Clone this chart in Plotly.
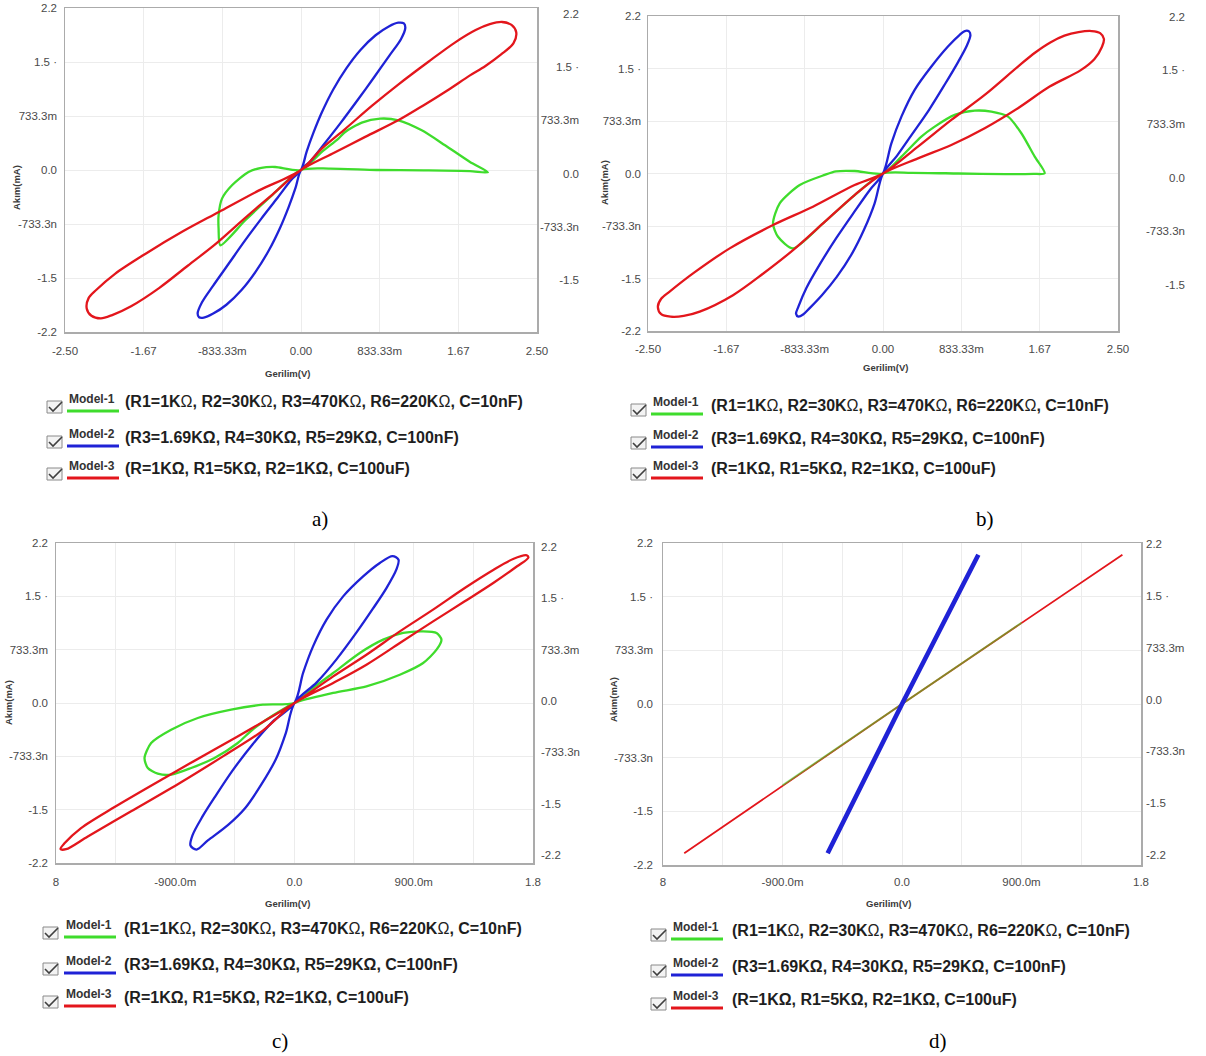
import plotly.graph_objects as go

W, H = 1206, 1056


def px(x):
    return x / W


def py(y):
    return 1 - y / H


# ---------------- tick values / labels ----------------
AB_X_TICKS = [-2.5, -1.6667, -0.8333, 0.0, 0.8333, 1.6667, 2.5]
AB_X_LABELS = ["-2.50", "-1.67", "-833.33m", "0.00", "833.33m", "1.67", "2.50"]
CD_X_TICKS = [-1.8, -1.35, -0.9, -0.45, 0.0, 0.45, 0.9, 1.35, 1.8]
CD_X_LABELS = ["8", "", "-900.0m", "", "0.0", "", "900.0m", "", "1.8"]
Y_TICKS = [-2.2, -1.4667, -0.7333, 0.0, 0.7333, 1.4667, 2.2]
Y_LABELS = ["-2.2", "-1.5", "-733.3n", "0.0", "733.3m", "1.5 \u00b7", "2.2"]

# ---------------- panel a ----------------
A_M1_X = [0, 0.3, 0.8, 1.3, 1.79, 1.98, 1.79, 1.526, 1.279, 1.032, 0.838, 0.644, 0.468, 0.397, 0.221, 0,
          -0.273, -0.42, -0.556, -0.731, -0.837, -0.873, -0.873, -0.855, -0.59, -0.326, 0]
A_M1_Y = [0, 0.02, 0.0, -0.005, -0.015, -0.03, 0.109, 0.336, 0.539, 0.675, 0.698, 0.644, 0.516, 0.427, 0.245, 0,
          0.041, 0.03, -0.027, -0.208, -0.389, -0.616, -0.797, -1.023, -0.683, -0.367, 0]
A_M2_X = [0, 0.06, 0.13, 0.22, 0.34, 0.48, 0.63, 0.79, 0.93, 1.03, 1.09, 1.105, 1.06, 0.94, 0.78, 0.6, 0.42, 0.25, 0.1, 0,
          -0.06, -0.13, -0.22, -0.34, -0.48, -0.63, -0.79, -0.93, -1.03, -1.08, -1.095, -1.05, -0.93, -0.77, -0.6, -0.42, -0.25, -0.1, 0]
A_M2_Y = [0, 0.25, 0.5, 0.78, 1.09, 1.38, 1.63, 1.83, 1.95, 2.0, 1.99, 1.93, 1.78, 1.56, 1.27, 0.95, 0.64, 0.36, 0.12, 0,
          -0.25, -0.5, -0.78, -1.09, -1.38, -1.63, -1.83, -1.95, -2.005, -2.0, -1.95, -1.8, -1.57, -1.28, -0.97, -0.66, -0.38, -0.13, 0]
A_M3_X = [0, 0.22, 0.47, 0.75, 1.03, 1.35, 1.63, 1.85, 2.0, 2.13, 2.23, 2.28, 2.25, 2.12, 1.95, 1.79, 1.55, 1.3, 1.03, 0.68, 0.33, 0,
          -0.3, -0.6, -0.9, -1.2, -1.5, -1.8, -2.0, -2.12, -2.22, -2.27, -2.25, -2.17, -1.97, -1.65, -1.26, -0.87, -0.45, 0]
A_M3_Y = [0, 0.29, 0.56, 0.87, 1.16, 1.47, 1.73, 1.9, 1.98, 2.01, 1.97, 1.87, 1.72, 1.57, 1.41, 1.285, 1.08, 0.88, 0.675, 0.45, 0.22, 0,
          -0.33, -0.66, -1.0, -1.3, -1.6, -1.85, -1.97, -2.015, -1.98, -1.88, -1.74, -1.63, -1.41, -1.14, -0.84, -0.57, -0.28, 0]

# ---------------- panel b ----------------
B_M1_X = [0, 0.3, 0.8, 1.3, 1.6, 1.72, 1.614, 1.472, 1.330, 1.153, 0.976, 0.763, 0.550, 0.408, 0.196, 0,
          -0.3, -0.5, -0.62, -0.886, -1.099, -1.170, -1.117, -0.957, -0.638, -0.302, 0]
B_M1_Y = [0, 0.01, 0.0, -0.01, -0.005, 0.003, 0.235, 0.562, 0.794, 0.864, 0.878, 0.818, 0.655, 0.515, 0.235, 0,
          0.035, 0.03, -0.02, -0.161, -0.417, -0.697, -0.884, -1.046, -0.697, -0.301, 0]
B_M2_X = [0, 0.089, 0.196, 0.337, 0.515, 0.691, 0.816, 0.87, 0.915, 0.93, 0.89, 0.8, 0.66, 0.49, 0.31, 0.15, 0,
          -0.09, -0.2, -0.33, -0.49, -0.65, -0.78, -0.85, -0.9, -0.925, -0.9, -0.815, -0.673, -0.496, -0.302, -0.14, 0]
B_M2_Y = [0, 0.422, 0.794, 1.168, 1.494, 1.773, 1.937, 1.99, 1.985, 1.93, 1.78, 1.56, 1.25, 0.89, 0.55, 0.25, 0,
          -0.42, -0.78, -1.12, -1.44, -1.7, -1.88, -1.97, -2.0, -1.96, -1.86, -1.6, -1.27, -0.9, -0.53, -0.23, 0]
B_M3_X = [0, 0.372, 0.727, 1.082, 1.436, 1.62, 1.78, 1.93, 2.08, 2.22, 2.31, 2.35, 2.33, 2.25, 2.1, 1.773, 1.436, 1.082, 0.727, 0.372, 0,
          -0.302, -0.638, -0.957, -1.277, -1.596, -1.95, -2.12, -2.26, -2.36, -2.395, -2.36, -2.27, -2.021, -1.631, -1.170, -0.745, -0.302, 0]
B_M3_Y = [0, 0.375, 0.748, 1.098, 1.494, 1.69, 1.83, 1.925, 1.975, 1.99, 1.96, 1.88, 1.77, 1.6, 1.44, 1.214, 0.912, 0.632, 0.399, 0.212, 0,
          -0.301, -0.697, -1.070, -1.40, -1.70, -1.93, -1.99, -2.0, -1.965, -1.865, -1.75, -1.65, -1.396, -1.046, -0.720, -0.464, -0.161, 0]

# ---------------- panel c ----------------
C_M1_X = [0, 0.140, 0.292, 0.493, 0.669, 0.820, 0.971, 1.072, 1.109, 1.072, 0.971, 0.795, 0.543, 0.292, 0,
          -0.302, -0.428, -0.604, -0.780, -0.931, -1.032, -1.107, -1.132, -1.082, -0.931, -0.730, -0.478, -0.239, 0]
C_M1_Y = [0, 0.206, 0.413, 0.688, 0.871, 0.963, 0.985, 0.963, 0.871, 0.733, 0.550, 0.389, 0.228, 0.138, 0,
          -0.344, -0.550, -0.757, -0.894, -0.986, -0.972, -0.894, -0.757, -0.550, -0.367, -0.206, -0.092, -0.023, 0]
C_M2_X = [0, 0.065, 0.140, 0.242, 0.367, 0.518, 0.644, 0.74, 0.785, 0.770, 0.694, 0.593, 0.468, 0.317, 0.166, 0,
          -0.065, -0.14, -0.25, -0.37, -0.503, -0.654, -0.74, -0.785, -0.77, -0.694, -0.593, -0.468, -0.317, -0.166, 0]
C_M2_Y = [0, 0.413, 0.779, 1.146, 1.466, 1.741, 1.926, 2.02, 1.97, 1.84, 1.58, 1.3, 0.97, 0.6, 0.28, 0,
          -0.41, -0.77, -1.12, -1.44, -1.68, -1.89, -2.015, -1.96, -1.82, -1.56, -1.27, -0.93, -0.57, -0.26, 0]
C_M3_X = [0, 0.292, 0.543, 0.795, 1.046, 1.285, 1.5, 1.65, 1.753, 1.765, 1.68, 1.5, 1.285, 1.046, 0.795, 0.543, 0.292, 0,
          -0.239, -0.528, -0.856, -1.233, -1.560, -1.724, -1.766, -1.736, -1.611, -1.358, -0.981, -0.604, -0.239, 0]
C_M3_Y = [0, 0.366, 0.664, 0.985, 1.284, 1.582, 1.83, 1.98, 2.03, 2.0, 1.88, 1.65, 1.398, 1.122, 0.825, 0.527, 0.275, 0,
          -0.38, -0.72, -1.09, -1.49, -1.835, -2.01, -2.008, -1.93, -1.72, -1.43, -1.03, -0.64, -0.26, 0]

# ---------------- panel d ----------------
D_M1_X = [-0.9, 0, 0.9]
D_M1_Y = [-1.11, 0, 1.11]
D_M2_X = [-0.56, 0, 0.575]
D_M2_Y = [-2.04, 0, 2.04]
D_M3_X = [-1.64, 0, 1.66]
D_M3_Y = [-2.04, 0, 2.04]

# ---------------- legend text ----------------
MODEL_NAMES = ["Model-1", "Model-2", "Model-3"]
MODEL_DESCS = ["(R1=1K\u03a9, R2=30K\u03a9, R3=470K\u03a9, R6=220K\u03a9, C=10nF)",
               "(R3=1.69K\u03a9, R4=30K\u03a9, R5=29K\u03a9, C=100nF)",
               "(R=1K\u03a9, R1=5K\u03a9, R2=1K\u03a9, C=100uF)"]
COLORS = ["#3fdc2c", "#1f22d6", "#e3161c"]
CAPTIONS = ["a)", "b)", "c)", "d)"]
X_TITLE = "Gerilim(V)"
Y_TITLE = "Ak\u0131m(mA)"

# ---------------- layout geometry (pixels) ----------------
PANELS = [
    dict(curves=[(A_M1_X, A_M1_Y), (A_M2_X, A_M2_Y), (A_M3_X, A_M3_Y)],
         box=(65, 537, 8, 332), xr=[-2.5, 2.5], xt=AB_X_TICKS, xl=AB_X_LABELS, xtl=8,
         lpos=57, rpos=579, rside="left", rr=[-2.180, 2.282],
         xtitle=(287, 373), ytitle=(17, 188), cap=(320, 519),
         leg=dict(box_x=47, model_x=67, desc_x=123, rows=[402, 437, 469])),
    dict(curves=[(B_M1_X, B_M1_Y), (B_M2_X, B_M2_Y), (B_M3_X, B_M3_Y)],
         box=(648, 1118, 16, 331), xr=[-2.5, 2.5], xt=AB_X_TICKS, xl=AB_X_LABELS, xtl=7,
         lpos=641, rpos=1185, rside="left", rr=[-2.100, 2.209],
         xtitle=(885, 367), ytitle=(604, 183), cap=(985, 519),
         leg=dict(box_x=631, model_x=651, desc_x=709, rows=[405, 438, 469])),
    dict(curves=[(C_M1_X, C_M1_Y), (C_M2_X, C_M2_Y), (C_M3_X, C_M3_Y)],
         box=(56, 533, 543, 863), xr=[-1.8, 1.8], xt=CD_X_TICKS, xl=CD_X_LABELS, xtl=8,
         lpos=48, rpos=540, rside="right", rr=[-2.312, 2.253],
         xtitle=(287, 903), ytitle=(8, 703), cap=(280, 1041),
         leg=dict(box_x=43, model_x=64, desc_x=122, rows=[928, 964, 997])),
    dict(curves=[(D_M1_X, D_M1_Y), (D_M2_X, D_M2_Y), (D_M3_X, D_M3_Y)],
         box=(663, 1141, 543, 865), xr=[-1.8, 1.8], xt=CD_X_TICKS, xl=CD_X_LABELS, xtl=6,
         lpos=653, rpos=1145, rside="right", rr=[-2.343, 2.215],
         xtitle=(888, 903), ytitle=(613, 700), cap=(938, 1041),
         leg=dict(box_x=651, model_x=671, desc_x=730, rows=[930, 966, 999])),
]

TICK_FONT = dict(family="Liberation Sans", size=11.5, color="#4a4a4a")
GRID = "#ececec"
FRAME = "#ababab"

fig = go.Figure()
layout = dict(width=W, height=H, margin=dict(l=0, r=0, t=0, b=0, pad=0), autosize=False,
              paper_bgcolor="white", plot_bgcolor="white", showlegend=False)
annotations = []
shapes = []


def axname(prefix, n):
    return prefix if n == 1 else f"{prefix}{n}"


for i, p in enumerate(PANELS):
    xn = i + 1
    ym, yl, yr = 3 * i + 1, 3 * i + 2, 3 * i + 3
    xref = axname("x", xn)
    ymref, ylref, yrref = axname("y", ym), axname("y", yl), axname("y", yr)
    x0, x1, y0, y1 = p["box"]

    layout[axname("xaxis", xn)] = dict(
        domain=[px(x0), px(x1)], anchor=ymref, range=p["xr"], automargin=False,
        tickmode="array", tickvals=p["xt"], ticktext=p["xl"], tickfont=TICK_FONT,
        ticks="outside", ticklen=p["xtl"], tickcolor="rgba(0,0,0,0)",
        showgrid=True, gridcolor=GRID, gridwidth=1, zeroline=False,
        showline=True, mirror=True, linecolor=FRAME, linewidth=1.5, fixedrange=True)
    layout[axname("yaxis", ym)] = dict(
        domain=[py(y1), py(y0)], anchor=xref, range=[-2.2, 2.2], automargin=False,
        tickmode="array", tickvals=Y_TICKS, showticklabels=False, ticks="",
        showgrid=True, gridcolor=GRID, gridwidth=1, zeroline=False,
        showline=True, mirror=True, linecolor=FRAME, linewidth=1.5, fixedrange=True)
    layout[axname("yaxis", yl)] = dict(
        overlaying=ymref, anchor="free", position=px(p["lpos"]), side="left",
        range=[-2.2, 2.2], tickmode="array", tickvals=Y_TICKS, ticktext=Y_LABELS,
        tickfont=TICK_FONT, ticks="", showgrid=False, zeroline=False, showline=False,
        automargin=False, fixedrange=True)
    layout[axname("yaxis", yr)] = dict(
        overlaying=ymref, anchor="free", position=px(p["rpos"]), side=p["rside"],
        range=p["rr"], tickmode="array", tickvals=Y_TICKS, ticktext=Y_LABELS,
        tickfont=TICK_FONT, ticks="", showgrid=False, zeroline=False, showline=False,
        automargin=False, fixedrange=True)

    # dummy traces so that the label axes are drawn
    for yy in (ylref, yrref):
        fig.add_trace(go.Scatter(x=[0], y=[0], xaxis=xref, yaxis=yy, mode="markers",
                                 marker=dict(opacity=0), hoverinfo="skip", showlegend=False))

    # curves
    order = [0, 1, 2] if i < 3 else [2, 0, 1]
    for m in order:
        cx, cy = p["curves"][m]
        if i < 3:
            fig.add_trace(go.Scatter(x=cx, y=cy, xaxis=xref, yaxis=ymref, mode="lines",
                                     line=dict(color=COLORS[m], width=2.3, shape="spline",
                                               smoothing=0.7 if m == 0 else 0.9),
                                     hoverinfo="skip", showlegend=False))
        else:
            width = {0: 2.0, 1: 4.6, 2: 1.8}[m]
            op = 0.55 if m == 0 else 1.0
            fig.add_trace(go.Scatter(x=cx, y=cy, xaxis=xref, yaxis=ymref, mode="lines",
                                     opacity=op, line=dict(color=COLORS[m], width=width),
                                     hoverinfo="skip", showlegend=False))

    # axis titles
    tx, ty = p["xtitle"]
    annotations.append(dict(text="<b>%s</b>" % X_TITLE, x=px(tx), y=py(ty), xref="paper", yref="paper",
                            showarrow=False, xanchor="center", yanchor="middle",
                            font=dict(family="Liberation Sans", size=9.5, color="#3a3a3a")))
    tx, ty = p["ytitle"]
    annotations.append(dict(text="<b>%s</b>" % Y_TITLE, x=px(tx), y=py(ty), xref="paper", yref="paper",
                            showarrow=False, xanchor="center", yanchor="middle", textangle=-90,
                            font=dict(family="Liberation Sans", size=9.5, color="#3a3a3a")))
    # caption
    cx_, cy_ = p["cap"]
    annotations.append(dict(text=CAPTIONS[i], x=px(cx_), y=py(cy_), xref="paper", yref="paper",
                            showarrow=False, xanchor="center", yanchor="middle",
                            font=dict(family="Liberation Serif", size=21, color="black")))

    # legend rows
    lg = p["leg"]
    for r, ry in enumerate(lg["rows"]):
        bx = lg["box_x"]
        by = ry + 5
        shapes.append(dict(type="rect", xref="paper", yref="paper",
                           x0=px(bx), x1=px(bx + 15), y0=py(by + 6), y1=py(by - 6),
                           line=dict(color="#8a8a8a", width=1), fillcolor="#f3f3f3"))
        path = "M %.5f,%.5f L %.5f,%.5f L %.5f,%.5f" % (
            px(bx + 2), py(by), px(bx + 6), py(by + 4), px(bx + 15), py(by - 5))
        shapes.append(dict(type="path", xref="paper", yref="paper", path=path,
                           line=dict(color="#404040", width=1.6)))
        mx = lg["model_x"]
        annotations.append(dict(text="<b>%s</b>" % MODEL_NAMES[r], x=px(mx), y=py(ry - 3),
                                xref="paper", yref="paper", showarrow=False,
                                xanchor="left", yanchor="middle",
                                font=dict(family="Liberation Sans", size=12, color="#333333")))
        shapes.append(dict(type="line", xref="paper", yref="paper",
                           x0=px(mx), x1=px(mx + 52), y0=py(ry + 9), y1=py(ry + 9),
                           line=dict(color=COLORS[r], width=3)))
        desc = MODEL_DESCS[r]
        if r == 0:
            txt = "<b>" + desc.replace("\u03a9", "</b>\u03a9<b>") + "</b>"
        else:
            txt = "<b>" + desc + "</b>"
        annotations.append(dict(text=txt, x=px(lg["desc_x"]), y=py(ry),
                                xref="paper", yref="paper", showarrow=False,
                                xanchor="left", yanchor="middle",
                                font=dict(family="Liberation Sans", size=16, color="#1e1e1e")))

layout["annotations"] = annotations
layout["shapes"] = shapes
fig.update_layout(**layout)
fig.write_html("out.html",
               config={"displayModeBar": False, "staticPlot": True},
               post_script="document.body.style.margin='0px';document.body.style.overflow='hidden';")
